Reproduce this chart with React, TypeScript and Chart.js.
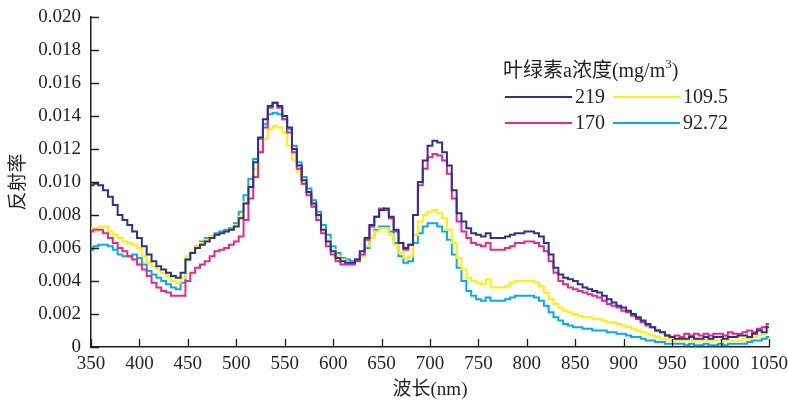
import React, { useEffect, useRef } from "react";
import { Chart, registerables } from "chart.js";

Chart.register(...registerables);

const wavelengths: number[] = [];
for (let w = 350; w <= 1050; w += 5) wavelengths.push(w);

const seriesLabels = ["219", "170", "109.5", "92.72"];
const seriesColors = ["#2e3192", "#ec268f", "#fff200", "#00aeef"];

const s219 = [
  0.0098, 0.0099, 0.0098, 0.0095, 0.0091, 0.0086, 0.0080, 0.0077, 0.0074, 0.0070,
  0.0066, 0.0061, 0.0056, 0.0052, 0.0049, 0.0047, 0.0045, 0.0043, 0.0042, 0.0045,
  0.0053, 0.0057, 0.0060, 0.0062, 0.0064, 0.0066, 0.0068, 0.0069, 0.0070, 0.0071,
  0.0073, 0.0078, 0.0087, 0.0097, 0.0112, 0.0127, 0.0138, 0.0146, 0.0148, 0.0146,
  0.0140, 0.0133, 0.0120, 0.0110, 0.0101, 0.0094, 0.0087, 0.0080, 0.0071, 0.0064,
  0.0058, 0.0054, 0.0052, 0.0051, 0.0051, 0.0053, 0.0058, 0.0066, 0.0074, 0.0079,
  0.0083, 0.0084, 0.0079, 0.0071, 0.0063, 0.0060, 0.0062, 0.0080, 0.0100, 0.0113,
  0.0122, 0.0125, 0.0124, 0.0118, 0.0110, 0.0095, 0.0081, 0.0076, 0.0072, 0.0069,
  0.0068, 0.0067, 0.0069, 0.0066, 0.0066, 0.0066, 0.0067, 0.0068, 0.0069, 0.0069,
  0.0070, 0.0070, 0.0069, 0.0067, 0.0063, 0.0056, 0.0048, 0.0044, 0.0042, 0.0041,
  0.0040, 0.0038, 0.0036, 0.0035, 0.0034, 0.0033, 0.0031, 0.0029, 0.0027, 0.0025,
  0.0024, 0.0022, 0.0020, 0.0018, 0.0016, 0.0014, 0.0012, 0.0010, 0.0009, 0.0007,
  0.0006, 0.0005, 0.0005, 0.0005, 0.0006, 0.0005, 0.0005, 0.0006, 0.0005, 0.0006,
  0.0006, 0.0005, 0.0006, 0.0006, 0.0007, 0.0007, 0.0006, 0.0008, 0.0010, 0.0009,
  0.0012,
];

const s170 = [
  0.0070, 0.0071, 0.0071, 0.0069, 0.0066, 0.0063, 0.0060, 0.0058, 0.0055, 0.0053,
  0.0050, 0.0047, 0.0043, 0.0039, 0.0036, 0.0034, 0.0033, 0.0031, 0.0031, 0.0031,
  0.0040, 0.0045, 0.0048, 0.0050, 0.0052, 0.0055, 0.0058, 0.0059, 0.0060, 0.0062,
  0.0064, 0.0067, 0.0077, 0.0090, 0.0103, 0.0118, 0.0133, 0.0145, 0.0148, 0.0145,
  0.0138, 0.0130, 0.0118, 0.0108, 0.0099, 0.0092, 0.0085, 0.0077, 0.0069, 0.0061,
  0.0056, 0.0052, 0.0050, 0.0050, 0.0050, 0.0052, 0.0056, 0.0065, 0.0073, 0.0079,
  0.0084, 0.0083, 0.0078, 0.0070, 0.0063, 0.0059, 0.0062, 0.0080, 0.0098, 0.0108,
  0.0115, 0.0117, 0.0116, 0.0113, 0.0105, 0.0090, 0.0076, 0.0070, 0.0066, 0.0063,
  0.0062, 0.0061, 0.0063, 0.0059, 0.0059, 0.0059, 0.0060, 0.0061, 0.0063, 0.0063,
  0.0064, 0.0064, 0.0063, 0.0061, 0.0058, 0.0052, 0.0045, 0.0040, 0.0038, 0.0036,
  0.0035, 0.0034, 0.0033, 0.0032, 0.0031, 0.0030, 0.0028, 0.0026, 0.0025, 0.0024,
  0.0022, 0.0021, 0.0019, 0.0017, 0.0015, 0.0013, 0.0012, 0.0010, 0.0009, 0.0007,
  0.0006, 0.0007, 0.0006, 0.0008, 0.0007, 0.0008, 0.0007, 0.0008, 0.0007, 0.0008,
  0.0008, 0.0007, 0.0009, 0.0008, 0.0008, 0.0009, 0.0010, 0.0009, 0.0011, 0.0012,
  0.0014,
];

const s109 = [
  0.0072, 0.0072, 0.0073, 0.0073, 0.0070, 0.0068, 0.0066, 0.0064, 0.0063, 0.0062,
  0.0060, 0.0055, 0.0051, 0.0049, 0.0047, 0.0045, 0.0043, 0.0040, 0.0039, 0.0042,
  0.0055, 0.0058, 0.0061, 0.0063, 0.0065, 0.0067, 0.0068, 0.0069, 0.0070, 0.0071,
  0.0074, 0.0079, 0.0088, 0.0097, 0.0108, 0.0119, 0.0126, 0.0132, 0.0134, 0.0133,
  0.0130, 0.0122, 0.0113, 0.0106, 0.0099, 0.0093, 0.0086, 0.0079, 0.0071, 0.0065,
  0.0059, 0.0055, 0.0053, 0.0051, 0.0051, 0.0052, 0.0055, 0.0061, 0.0066, 0.0070,
  0.0072, 0.0072, 0.0068, 0.0062, 0.0057, 0.0054, 0.0055, 0.0068, 0.0076, 0.0080,
  0.0082, 0.0083, 0.0081, 0.0078, 0.0071, 0.0063, 0.0054, 0.0047, 0.0042, 0.0040,
  0.0039, 0.0038, 0.0041, 0.0036, 0.0036, 0.0036, 0.0037, 0.0039, 0.0040, 0.0040,
  0.0040, 0.0040, 0.0039, 0.0037, 0.0033, 0.0029, 0.0026, 0.0024, 0.0022, 0.0021,
  0.0020, 0.0019, 0.0018, 0.0018, 0.0017, 0.0017, 0.0016, 0.0015, 0.0015, 0.0014,
  0.0013, 0.0012, 0.0011, 0.0010, 0.0009, 0.0008, 0.0007, 0.0006, 0.0005, 0.0005,
  0.0004, 0.0004, 0.0004, 0.0004, 0.0004, 0.0004, 0.0004, 0.0004, 0.0004, 0.0004,
  0.0004, 0.0004, 0.0004, 0.0004, 0.0004, 0.0005, 0.0005, 0.0006, 0.0007, 0.0008,
  0.0010,
];

const s92 = [
  0.0059, 0.0061, 0.0062, 0.0062, 0.0061, 0.0059, 0.0056, 0.0055, 0.0055, 0.0056,
  0.0054, 0.0050, 0.0046, 0.0044, 0.0042, 0.0040, 0.0038, 0.0036, 0.0035, 0.0039,
  0.0053, 0.0057, 0.0061, 0.0064, 0.0066, 0.0067, 0.0069, 0.0070, 0.0071, 0.0072,
  0.0075, 0.0082, 0.0092, 0.0102, 0.0114, 0.0126, 0.0135, 0.0141, 0.0142, 0.0141,
  0.0138, 0.0132, 0.0122, 0.0112, 0.0103, 0.0096, 0.0089, 0.0082, 0.0074, 0.0068,
  0.0061, 0.0057, 0.0054, 0.0053, 0.0052, 0.0053, 0.0055, 0.0060, 0.0066, 0.0071,
  0.0073, 0.0073, 0.0070, 0.0063, 0.0055, 0.0051, 0.0052, 0.0063, 0.0069, 0.0073,
  0.0075, 0.0075, 0.0073, 0.0070, 0.0065, 0.0056, 0.0048, 0.0040, 0.0034, 0.0031,
  0.0029, 0.0028, 0.0030, 0.0028, 0.0028, 0.0028, 0.0029, 0.0030, 0.0031, 0.0031,
  0.0031, 0.0031, 0.0030, 0.0028, 0.0025, 0.0021, 0.0018, 0.0016, 0.0014, 0.0013,
  0.0012, 0.0012, 0.0011, 0.0011, 0.0010, 0.0010, 0.0010, 0.0009, 0.0009, 0.0008,
  0.0008, 0.0007, 0.0006, 0.0006, 0.0005, 0.0004, 0.0004, 0.0003, 0.0003, 0.0002,
  0.0002, 0.0002, 0.0002, 0.0001, 0.0002, 0.0001, 0.0001, 0.0002, 0.0001, 0.0001,
  0.0002, 0.0001, 0.0002, 0.0002, 0.0002, 0.0002, 0.0003, 0.0004, 0.0004, 0.0005,
  0.0006,
];

const seriesValues = [s219, s170, s109, s92];

const yTicks = [0, 0.002, 0.004, 0.006, 0.008, 0.01, 0.012, 0.014, 0.016, 0.018, 0.02];
const xTicks = [350, 400, 450, 500, 550, 600, 650, 700, 750, 800, 850, 900, 950, 1000, 1050];

const legendTitle = "叶绿素a浓度(mg/m";
const legendSup = "3";
const legendTitleEnd = ")";
const xTitle = "波长(nm)";
const yTitle = "反射率";

const FONT = "'Liberation Serif', 'Times New Roman', 'Noto Sans CJK SC', serif";
const INK = "#231f20";

const inwardTicks = {
  id: "inwardTicks",
  afterDraw(chart: any) {
    const { ctx, chartArea, scales } = chart;
    ctx.save();
    ctx.strokeStyle = INK;
    ctx.lineWidth = 1.3;
    ctx.beginPath();
    for (const v of xTicks) {
      const x = Math.round(scales.x.getPixelForValue(v)) + 0.5;
      ctx.moveTo(x, chartArea.bottom);
      ctx.lineTo(x, chartArea.bottom - 8);
    }
    for (const v of yTicks) {
      const y = Math.round(scales.y.getPixelForValue(v)) + 0.5;
      ctx.moveTo(chartArea.left, y);
      ctx.lineTo(chartArea.left + 8, y);
    }
    ctx.stroke();
    ctx.restore();
  },
};

const customLegend = {
  id: "customLegend",
  afterDraw(chart: any) {
    const { ctx } = chart;
    ctx.save();
    ctx.fillStyle = INK;
    ctx.textBaseline = "middle";
    ctx.textAlign = "left";
    ctx.font = `20px ${FONT}`;
    const tx = 503;
    const ty = 72;
    ctx.fillText(legendTitle, tx, ty);
    const w = ctx.measureText(legendTitle).width;
    ctx.font = `13px ${FONT}`;
    ctx.fillText(legendSup, tx + w, ty - 7);
    const sw = ctx.measureText(legendSup).width;
    ctx.font = `20px ${FONT}`;
    ctx.fillText(legendTitleEnd, tx + w + sw, ty);
    const cols = [505, 613];
    const rows = [97, 123];
    const pos = [
      [0, 0],
      [0, 1],
      [1, 0],
      [1, 1],
    ];
    chart.data.datasets.forEach((ds: any, i: number) => {
      const [c, r] = pos[i];
      const x = cols[c];
      const y = rows[r];
      ctx.strokeStyle = ds.borderColor;
      ctx.lineWidth = 2;
      ctx.beginPath();
      ctx.moveTo(x, y);
      ctx.lineTo(x + 67, y);
      ctx.stroke();
      ctx.fillStyle = INK;
      ctx.fillText(ds.label, x + 70, y + 1);
    });
    ctx.restore();
  },
};

export default function App() {
  const ref = useRef<HTMLCanvasElement | null>(null);
  useEffect(() => {
    if (!ref.current) return;
    const chart = new Chart(ref.current, {
      type: "line",
      data: {
        labels: wavelengths,
        datasets: seriesValues.map((vals, i) => ({
          label: seriesLabels[i],
          data: vals.map((v, j) => ({ x: wavelengths[j], y: v })),
          borderColor: seriesColors[i],
          backgroundColor: seriesColors[i],
          borderWidth: 2,
          pointRadius: 0,
          stepped: "middle" as const,
          fill: false,
        })),
      },
      options: {
        responsive: false,
        animation: false,
        devicePixelRatio: 1,
        layout: { padding: { left: 0, right: 19, top: 17, bottom: 0 } },
        plugins: {
          legend: { display: false },
          tooltip: { enabled: false },
        },
        scales: {
          x: {
            type: "linear",
            min: 350,
            max: 1050,
            afterFit(scale: any) {
              scale.height = 56;
              scale.paddingLeft = 0;
              scale.paddingRight = 0;
            },
            afterBuildTicks(scale: any) {
              scale.ticks = xTicks.map((v) => ({ value: v }));
            },
            grid: { display: true, drawOnChartArea: false, drawTicks: false },
            border: { display: true, color: INK, width: 1.5 },
            ticks: {
              color: INK,
              font: { family: FONT, size: 19 },
              padding: 6,
              maxRotation: 0,
              autoSkip: false,
              callback: (v: any) => String(v),
            },
            title: {
              display: true,
              text: xTitle,
              color: INK,
              font: { family: FONT, size: 19 },
              padding: { top: 0, bottom: 2 },
            },
          },
          y: {
            type: "linear",
            min: 0,
            max: 0.02,
            afterFit(scale: any) {
              scale.width = 91;
              scale.paddingTop = 0;
              scale.paddingBottom = 0;
            },
            afterBuildTicks(scale: any) {
              scale.ticks = yTicks.map((v) => ({ value: v }));
            },
            grid: { display: true, drawOnChartArea: false, drawTicks: false },
            border: { display: true, color: INK, width: 1.5 },
            ticks: {
              color: INK,
              font: { family: FONT, size: 19 },
              padding: 10,
              callback: (v: any) => (Number(v) === 0 ? "0" : Number(v).toFixed(3)),
            },
            title: {
              display: true,
              text: yTitle,
              color: INK,
              font: { family: FONT, size: 19 },
              padding: { top: 8, bottom: 0 },
            },
          },
        },
      },
      plugins: [inwardTicks, customLegend],
    } as any);
    return () => chart.destroy();
  }, []);
  return (
    <div style={{ position: "fixed", left: 0, top: 0, width: 788, height: 403, background: "#fff" }}>
      <canvas ref={ref} width={788} height={403} />
    </div>
  );
}
